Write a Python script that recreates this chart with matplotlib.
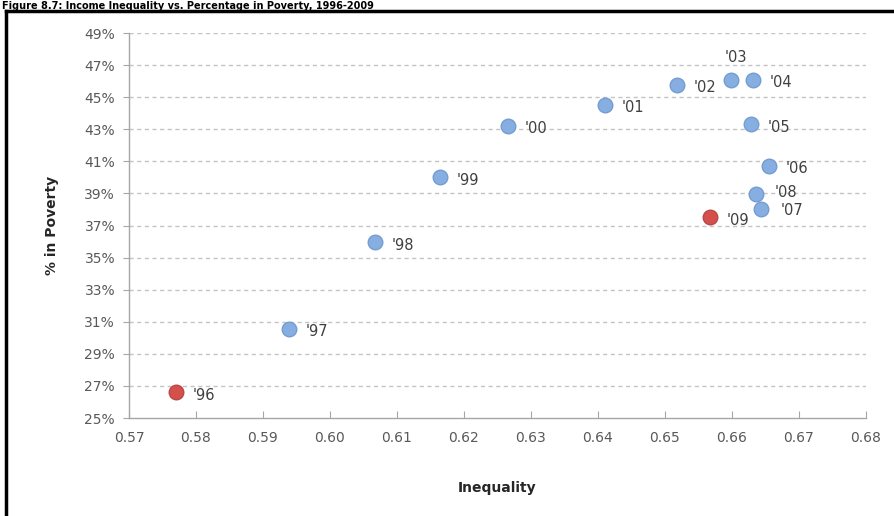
import matplotlib
matplotlib.use("Agg")
import matplotlib.pyplot as plt
from matplotlib.lines import Line2D
from matplotlib.ticker import FuncFormatter

# Income inequality vs. share of population in poverty, 1996-2009
years = ["'96", "'97", "'98", "'99", "'00", "'01", "'02",
         "'03", "'04", "'05", "'06", "'07", "'08", "'09"]
inequality = [0.5770, 0.5939, 0.6067, 0.6164, 0.6266, 0.6410, 0.6518,
              0.6599, 0.6631, 0.6628, 0.6655, 0.6643, 0.6636, 0.6567]
poverty = [26.6, 30.55, 35.95, 40.0, 43.2, 44.5, 45.75,
           46.1, 46.1, 43.3, 40.7, 38.0, 38.95, 37.5]
highlight = ["'96", "'09"]

# label offsets in points (dx, dy)
label_offsets = {"'03": (3, 16), "'07": (14, -1), "'08": (13, 1)}
default_offset = (12, -2)

W, H = 894, 516
fig = plt.figure(figsize=(W / 100, H / 100), dpi=100)
fig.patch.set_facecolor("white")

ax = fig.add_axes([129 / W, 1 - 418 / H, (866 - 129) / W, (418 - 33) / H])

blue_x = [x for x, lab in zip(inequality, years) if lab not in highlight]
blue_y = [y for y, lab in zip(poverty, years) if lab not in highlight]
red_x = [x for x, lab in zip(inequality, years) if lab in highlight]
red_y = [y for y, lab in zip(poverty, years) if lab in highlight]

ax.scatter(blue_x, blue_y, s=110, color="#86AEE0", edgecolor="#739DD2",
           linewidth=1.0, zorder=3)
ax.scatter(red_x, red_y, s=110, color="#D3504D", edgecolor="#BC4745",
           linewidth=1.0, zorder=3)

for x, y, lab in zip(inequality, poverty, years):
    dx, dy = label_offsets.get(lab, default_offset)
    ax.annotate(lab, (x, y), xytext=(dx, dy), textcoords="offset points",
                ha="left" if lab != "'03" else "center", va="center",
                fontsize=10.5, color="#404040", zorder=4)

ax.set_xlim(0.57, 0.68)
ax.set_ylim(25, 49)
ax.set_xticks([0.57 + 0.01 * i for i in range(12)])
ax.set_yticks(list(range(25, 50, 2)))
ax.xaxis.set_major_formatter(FuncFormatter(lambda v, p: f"{v:.2f}"))
ax.yaxis.set_major_formatter(FuncFormatter(lambda v, p: f"{v:.0f}%"))

for yv in range(27, 50, 2):
    ax.axhline(yv, color="#C4C4C4", linestyle=(0, (3, 2.5)), linewidth=1.0, zorder=1)

for side in ("top", "right"):
    ax.spines[side].set_visible(False)
for side in ("left", "bottom"):
    ax.spines[side].set_color("#A6A6A6")
    ax.spines[side].set_linewidth(1.0)

ax.tick_params(axis="x", direction="in", length=5, color="#A6A6A6",
               labelsize=10, labelcolor="#595959", pad=9)
ax.tick_params(axis="y", direction="out", length=4, color="#A6A6A6",
               labelsize=10, labelcolor="#595959", pad=6)

ax.set_xlabel("Inequality", fontsize=10, fontweight="bold", color="#262626", labelpad=26)
ax.set_ylabel("% in Poverty", fontsize=10, fontweight="bold", color="#262626", labelpad=18)

# black frame around the chart area
frame_top = 1 - 11 / H
fig.add_artist(Line2D([6 / W, 6 / W], [0, frame_top], color="black",
                      linewidth=2.5, transform=fig.transFigure))
fig.add_artist(Line2D([6 / W, 1], [frame_top, frame_top], color="black",
                      linewidth=2.5, transform=fig.transFigure))

fig.text(2 / W, 1 - 1 / H,
         "Figure 8.7: Income Inequality vs. Percentage in Poverty, 1996-2009",
         fontsize=7, fontweight="bold", color="black", va="top", ha="left")

fig.savefig("out.png", dpi=100, facecolor="white")
